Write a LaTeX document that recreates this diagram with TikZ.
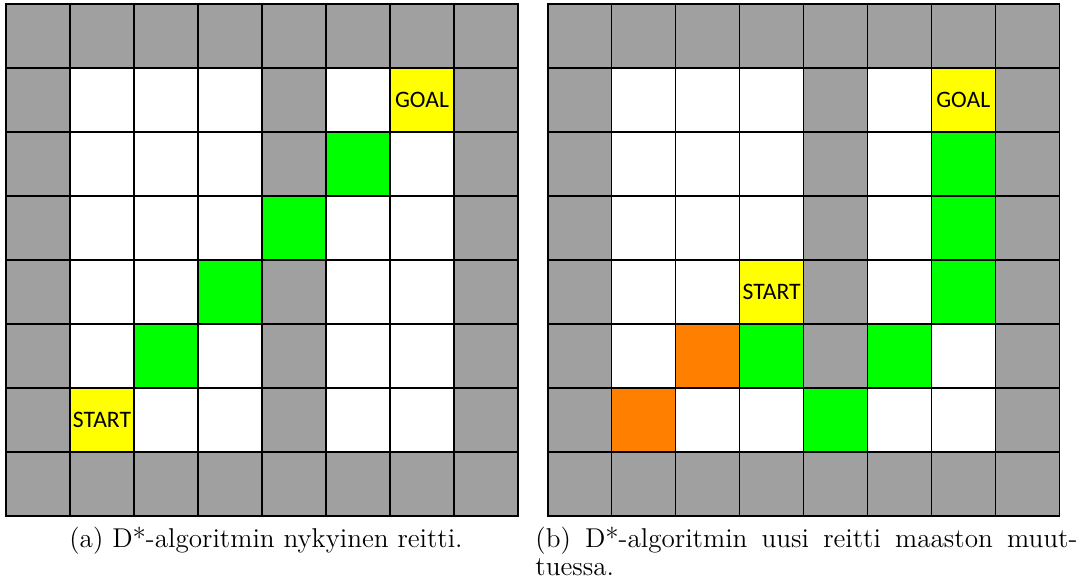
\documentclass[tikz,border=0pt]{standalone}
\usepackage{fontspec}
\newfontfamily\cellfont{Carlito}
\definecolor{gry}{HTML}{A0A0A0}
\definecolor{wht}{HTML}{FFFFFF}
\definecolor{grn}{HTML}{00FF00}
\definecolor{ylw}{HTML}{FFFF00}
\definecolor{org}{HTML}{FF8000}
\tikzset{
  cell/.style={draw=black, line width=0.6pt, minimum size=32pt, inner sep=0pt, anchor=north west, outer sep=0pt},
  lbl/.style={font=\cellfont\fontsize{11.8}{13}\selectfont, inner sep=0pt, text=black},
  captext/.style={font=\fontsize{13.6}{15}\selectfont, inner sep=0pt, anchor=base}
}
\begin{document}
\begin{tikzpicture}[x=0.5pt,y=-0.5pt]
\useasboundingbox (0,0) rectangle (1082,585);
% left grid
\foreach \row [count=\r from 0] in {
 {gry,gry,gry,gry,gry,gry,gry,gry},
 {gry,wht,wht,wht,gry,wht,ylw,gry},
 {gry,wht,wht,wht,gry,grn,wht,gry},
 {gry,wht,wht,wht,grn,wht,wht,gry},
 {gry,wht,wht,grn,gry,wht,wht,gry},
 {gry,wht,grn,wht,gry,wht,wht,gry},
 {gry,ylw,wht,wht,gry,wht,wht,gry},
 {gry,gry,gry,gry,gry,gry,gry,gry}} {
  \foreach \c [count=\k from 0] in \row {
    \node[cell, fill=\c] (L-\r-\k) at ({6+64*\k},{4+64*\r}) {};
  }
}
% right grid
\foreach \row [count=\r from 0] in {
 {gry,gry,gry,gry,gry,gry,gry,gry},
 {gry,wht,wht,wht,gry,wht,ylw,gry},
 {gry,wht,wht,wht,gry,wht,grn,gry},
 {gry,wht,wht,wht,gry,wht,grn,gry},
 {gry,wht,wht,ylw,gry,wht,grn,gry},
 {gry,wht,org,grn,gry,grn,wht,gry},
 {gry,org,wht,wht,grn,wht,wht,gry},
 {gry,gry,gry,gry,gry,gry,gry,gry}} {
  \foreach \c [count=\k from 0] in \row {
    \node[cell, fill=\c] (R-\r-\k) at ({548+63.875*\k},{4+64*\r}) {};
  }
}
\node[lbl] (goalL) at (L-1-6) {GOAL};
\node[lbl] (startL) at (L-6-1) {START};
\node[lbl] (goalR) at (R-1-6) {GOAL};
\node[lbl] (startR) at (R-4-3) {START};
% captions
\node[captext] (capa) at (266,547) {(a) D*-algoritmin nykyinen reitti.};
\node[captext, anchor=base west] (capb1) at (535,547) {\makebox[271pt][s]{(b) D*-algoritmin uusi reitti maaston muut-}};
\node[captext, anchor=base west] (capb2) at (535,575) {tuessa.};
\end{tikzpicture}
\end{document}
